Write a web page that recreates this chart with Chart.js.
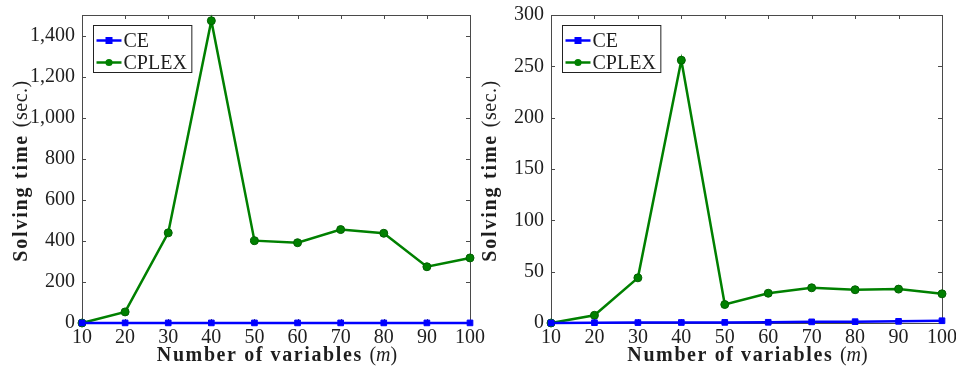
<!DOCTYPE html>
<html>
<head>
<meta charset="utf-8">
<script src="https://cdn.jsdelivr.net/npm/chart.js@4.4.0/dist/chart.umd.min.js"></script>
<style>
  body { margin: 0; background: #fff; }
  #wrap { position: relative; width: 956px; height: 367px; overflow: hidden; }
  canvas { position: absolute; top: 0; }
</style>
</head>
<body>
<div id="wrap">
  <canvas id="left" width="500" height="367" style="left:0"></canvas>
  <canvas id="right" width="476" height="367" style="left:480px"></canvas>
</div>
<script>
// number of variables (m)
const variables = [10, 20, 30, 40, 50, 60, 70, 80, 90, 100];

// left panel
const ceLeft = [0.5, 0.5, 0.5, 0.5, 0.5, 0.5, 0.5, 0.5, 0.5, 0.5];
const cplexLeft = [0, 54, 439, 1472, 401, 391, 455, 437, 274, 317];

// right panel
const ceRight = [0, 0.3, 0.4, 0.5, 0.6, 0.7, 1.1, 1.3, 1.6, 2.2];
const cplexRight = [0, 7.5, 44, 256, 18, 29, 34.3, 32.4, 33, 28.4];

const xTicks = [10, 20, 30, 40, 50, 60, 70, 80, 90, 100];
const yTicksLeft = [0, 200, 400, 600, 800, 1000, 1200, 1400];
const yTicksRight = [0, 50, 100, 150, 200, 250, 300];

const seriesNames = ['CE', 'CPLEX'];
const seriesColors = ['#0000ff', '#008000'];
const seriesMarkers = ['rect', 'circle'];

const SERIF = '"Liberation Serif", "DejaVu Serif", serif';
const TEXT = '#1e1e1e';

function drawPieces(ctx, pieces, cx, cy, rotate) {
    let total = 0;
    ctx.save();
    pieces.forEach(p => {
        ctx.font = p.font;
        ctx.letterSpacing = p.spacing || '0px';
        p.w = ctx.measureText(p.text).width;
        total += p.w;
    });
    ctx.translate(cx, cy);
    if (rotate) ctx.rotate(-Math.PI / 2);
    ctx.fillStyle = TEXT;
    ctx.textBaseline = 'middle';
    ctx.textAlign = 'left';
    let x = -total / 2;
    pieces.forEach(p => {
        ctx.font = p.font;
        ctx.letterSpacing = p.spacing || '0px';
        ctx.fillText(p.text, x, 0);
        x += p.w;
    });
    ctx.restore();
}

const framePlugin = {
    id: 'frame',
    beforeDatasetsDraw(chart) {
        const ctx = chart.ctx;
        const a = chart.chartArea;
        const xs = chart.scales.x, ys = chart.scales.y;
        ctx.save();
        ctx.strokeStyle = '#4a4a4a';
        ctx.lineWidth = 1;
        ctx.beginPath();
        xs.ticks.forEach(t => {
            const px = Math.round(xs.getPixelForValue(t.value)) + 0.5;
            ctx.moveTo(px, a.bottom); ctx.lineTo(px, a.bottom - 4);
            ctx.moveTo(px, a.top); ctx.lineTo(px, a.top + 4);
        });
        ys.ticks.forEach(t => {
            const py = Math.round(ys.getPixelForValue(t.value)) + 0.5;
            ctx.moveTo(a.left, py); ctx.lineTo(a.left + 4, py);
            ctx.moveTo(a.right, py); ctx.lineTo(a.right - 4, py);
        });
        ctx.stroke();
        ctx.strokeRect(Math.round(a.left) + 0.5, Math.round(a.top) + 0.5,
            Math.round(a.right - a.left), Math.round(a.bottom - a.top));
        ctx.restore();
    },
    afterDraw(chart) {
        const ctx = chart.ctx;
        const a = chart.chartArea;
        // legend box
        const bx = Math.round(a.left) + 11.5, by = Math.round(a.top) + 10.5;
        ctx.save();
        ctx.font = '20px ' + SERIF;
        let maxW = 0;
        chart.data.datasets.forEach(d => { maxW = Math.max(maxW, ctx.measureText(d.label).width); });
        const bw = 30 + maxW + 5, bh = 47;
        ctx.fillStyle = '#fff';
        ctx.fillRect(bx, by, bw, bh);
        ctx.strokeStyle = '#222';
        ctx.lineWidth = 1;
        ctx.strokeRect(bx, by, bw, bh);
        chart.data.datasets.forEach((d, i) => {
            const ly = by + 15 + i * 22;
            ctx.strokeStyle = d.borderColor;
            ctx.lineWidth = 2.5;
            ctx.beginPath();
            ctx.moveTo(bx + 3, ly); ctx.lineTo(bx + 28, ly);
            ctx.stroke();
            ctx.fillStyle = d.borderColor;
            if (d.pointStyle === 'rect') {
                ctx.fillRect(bx + 12, ly - 3.5, 7, 7);
            } else {
                ctx.beginPath(); ctx.arc(bx + 15.5, ly, 3.6, 0, Math.PI * 2); ctx.fill();
            }
            ctx.fillStyle = TEXT;
            ctx.textBaseline = 'middle';
            ctx.fillText(d.label, bx + 30, ly + 1);
        });
        ctx.restore();
        // axis titles
        const bold = 'bold 20px ' + SERIF, reg = '20px ' + SERIF, ital = 'italic 20px ' + SERIF;
        drawPieces(ctx, [
            { text: 'Number of variables ', font: bold, spacing: '1.6px' },
            { text: '(', font: reg }, { text: 'm', font: ital }, { text: ')', font: reg }
        ], (a.left + a.right) / 2 + 1, 356, false);
        drawPieces(ctx, [
            { text: 'Solving time ', font: bold, spacing: '1.8px' },
            { text: '(sec.)', font: reg, spacing: '0.5px' }
        ], a.left - 60, (a.top + a.bottom) / 2 + 2, true);
    }
};

function makeChart(id, ce, cplex, yTicks, yMax, yWidth, padRight) {
    const datasets = [ce, cplex].map((vals, i) => ({
        label: seriesNames[i],
        data: variables.map((v, j) => ({ x: v, y: vals[j] })),
        borderColor: seriesColors[i],
        backgroundColor: seriesColors[i],
        borderWidth: 2.5,
        pointStyle: seriesMarkers[i],
        pointRadius: 4,
        pointBorderWidth: 1,
        pointBorderColor: i === 0 ? '#0000ff' : '#006000',
        tension: 0,
        clip: false
    }));
    return new Chart(document.getElementById(id), {
        type: 'line',
        data: { datasets: datasets },
        options: {
            responsive: false,
            animation: false,
            events: [],
            layout: { padding: { top: 15, right: padRight, bottom: 0, left: 0 } },
            plugins: { legend: { display: false }, tooltip: { enabled: false } },
            scales: {
                x: {
                    type: 'linear',
                    min: 10, max: 100,
                    grid: { display: false },
                    border: { display: false },
                    ticks: { color: TEXT, font: { family: SERIF, size: 20 }, padding: -5, maxRotation: 0 },
                    afterBuildTicks: s => { s.ticks = xTicks.map(v => ({ value: v })); },
                    afterFit: s => { s.height = 44; s.paddingLeft = 0; s.paddingRight = 0; }
                },
                y: {
                    min: 0, max: yMax,
                    grid: { display: false },
                    border: { display: false },
                    ticks: { color: TEXT, font: { family: SERIF, size: 20 }, padding: -1 },
                    afterBuildTicks: s => { s.ticks = yTicks.map(v => ({ value: v })); },
                    afterFit: s => { s.width = yWidth; s.paddingTop = 0; s.paddingBottom = 0; }
                }
            }
        },
        plugins: [framePlugin]
    });
}

makeChart('left', ceLeft, cplexLeft, yTicksLeft, 1500, 82, 30);
makeChart('right', ceRight, cplexRight, yTicksRight, 300, 71, 14);
</script>
</body>
</html>
